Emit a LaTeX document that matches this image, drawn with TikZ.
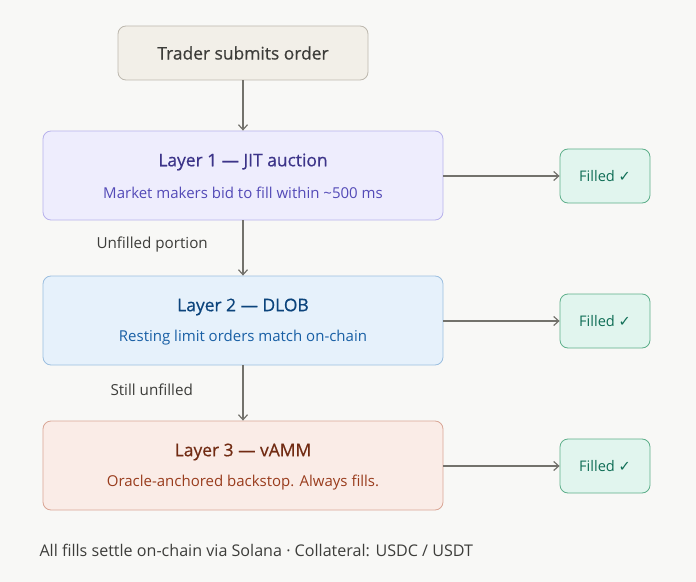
\documentclass[tikz,border=0pt]{standalone}
\usepackage{fontspec}
\setmainfont{Open Sans}
\newfontfamily\ttlfont[FakeBold=0.6]{Open Sans}
\newfontfamily\symfont{DejaVu Sans}
\usetikzlibrary{arrows.meta}
\definecolor{bgc}{HTML}{F8F8F6}
\definecolor{arrc}{HTML}{73726C}
\definecolor{txtc}{HTML}{3D3D3A}
\definecolor{trfill}{HTML}{F2EFE8}
\definecolor{trdraw}{HTML}{BDB8AE}
\definecolor{aFill}{HTML}{EEEDFD}
\definecolor{aDraw}{HTML}{B8B2EC}
\definecolor{aT}{HTML}{3C3489}
\definecolor{aS}{HTML}{534AB7}
\definecolor{bFill}{HTML}{E6F1FB}
\definecolor{bDraw}{HTML}{9CBFE0}
\definecolor{bT}{HTML}{0C447C}
\definecolor{bS}{HTML}{185FA5}
\definecolor{cFill}{HTML}{FAECE7}
\definecolor{cDraw}{HTML}{D9A696}
\definecolor{cT}{HTML}{712B13}
\definecolor{cS}{HTML}{993C1D}
\definecolor{gFill}{HTML}{E1F5EE}
\definecolor{gDraw}{HTML}{5DAF8A}
\definecolor{gT}{HTML}{0F6E56}
\tikzset{
  box/.style={rounded corners=8bp, line width=0.8bp, minimum width=400bp, minimum height=89bp},
  fillbox/.style={rounded corners=8bp, line width=0.8bp, fill=gFill, draw=gDraw, text=gT, minimum width=90bp, minimum height=54bp, font=\fontsize{14.6bp}{16bp}\selectfont},
  ttl/.style={font=\ttlfont\fontsize{17.4bp}{20bp}\selectfont},
  sub/.style={font=\fontsize{15bp}{17bp}\selectfont},
  lbl/.style={text=txtc, font=\fontsize{15.2bp}{17bp}\selectfont},
  conn/.style={draw=arrc, line width=1.2bp, -{Straight Barb[length=5bp,width=9bp]}},
}
\begin{document}
\begin{tikzpicture}[x=1bp,y=-1bp]
\fill[bgc] (0,0) rectangle (696,582);
\useasboundingbox (0,0) rectangle (696,582);
\node[rounded corners=8bp, line width=0.8bp, fill=trfill, draw=trdraw, minimum width=250bp, minimum height=54bp, text=txtc, ttl] (tr) at (243,53) {Trader submits order};
\node[box, fill=aFill, draw=aDraw] (l1) at (243,175.5) {};
\node[ttl, text=aT] (l1t) at (243,162) {Layer 1 — JIT auction};
\node[sub, text=aS] (l1s) at (243,193) {Market makers bid to fill within \textasciitilde500 ms};
\node[box, fill=bFill, draw=bDraw] (l2) at (243,320.5) {};
\node[ttl, text=bT] (l2t) at (243,307) {Layer 2 — DLOB};
\node[sub, text=bS] (l2s) at (243,338) {Resting limit orders match on-chain};
\node[box, fill=cFill, draw=cDraw] (l3) at (243,465.5) {};
\node[ttl, text=cT] (l3t) at (243,452) {Layer 3 — vAMM};
\node[sub, text=cS] (l3s) at (243,483) {Oracle-anchored backstop. Always fills.};
\node[fillbox] (f1) at (605,176) {Filled {\symfont\fontsize{14.5bp}{16bp}\selectfont ✓}};
\node[fillbox] (f2) at (605,321) {Filled {\symfont\fontsize{14.5bp}{16bp}\selectfont ✓}};
\node[fillbox] (f3) at (605,466) {Filled {\symfont\fontsize{14.5bp}{16bp}\selectfont ✓}};
\node[lbl, anchor=west] (u1) at (93,245) {Unfilled portion};
\node[lbl, anchor=west] (u2) at (107,390) {Still unfilled};
\node[lbl, anchor=west, font=\fontsize{16.1bp}{18bp}\selectfont] (ft) at (36,550) {All fills settle on-chain via Solana · Collateral: USDC / USDT};
\draw[conn] (tr) -- (l1);
\draw[conn] (l1) -- (l2);
\draw[conn] (l2) -- (l3);
\draw[conn] (l1.east |- f1) -- (f1);
\draw[conn] (l2.east |- f2) -- (f2);
\draw[conn] (l3.east |- f3) -- (f3);
\end{tikzpicture}
\end{document}
